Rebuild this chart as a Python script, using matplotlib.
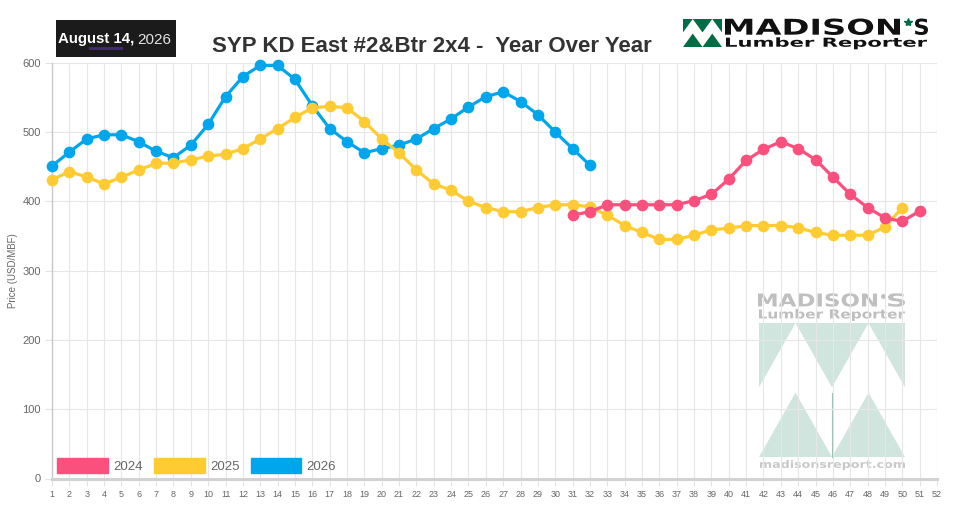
import numpy as np
import matplotlib
matplotlib.use("Agg")
import matplotlib.pyplot as plt
from matplotlib.patches import Rectangle, Polygon, PathPatch, Patch
from matplotlib.textpath import TextPath
from matplotlib.font_manager import FontProperties
from matplotlib.transforms import Affine2D

plt.rcParams['font.family'] = ['Liberation Sans', 'DejaVu Sans']

# data (weekly price, USD/MBF)
weeks_2024 = list(range(31, 52))
price_2024 = [380, 385, 395, 395, 395, 395, 395, 401, 410, 432, 459,
              475, 486, 476, 460, 435, 410, 391, 376, 371, 386]
weeks_2025 = list(range(1, 51))
price_2025 = [431, 443, 435, 425, 435, 445, 455, 455, 460, 465,
              468, 476, 490, 505, 521, 535, 537, 535, 515, 490,
              470, 445, 425, 416, 400, 391, 385, 385, 391, 395,
              395, 392, 380, 365, 355, 345, 345, 351, 359, 361,
              365, 365, 365, 362, 355, 351, 351, 351, 363, 391]
weeks_2026 = list(range(1, 33))
price_2026 = [451, 471, 490, 496, 496, 486, 472, 463, 481, 511,
              551, 580, 596, 596, 576, 538, 505, 486, 470, 476,
              481, 490, 505, 519, 536, 551, 558, 544, 525, 500,
              476, 452]
series_labels = ['2024', '2025', '2026']
series_colors = ['#F9507D', '#FFCB33', '#00A6EC']
week_ticks = list(range(1, 53))
price_ticks = [0, 100, 200, 300, 400, 500, 600]

W, H = 959, 514
fig = plt.figure(figsize=(W / 100, H / 100), dpi=100)

# background layer in pixel coords (logos, watermark, title)
bg = fig.add_axes([0, 0, 1, 1], zorder=0)
bg.set_xlim(0, W)
bg.set_ylim(H, 0)
bg.axis('off')


def fit_text(ax, s, x0, y0, x1, y1, color, weight='bold', family='DejaVu Sans'):
    # squeeze a text path into a pixel box
    tp = TextPath((0, 0), s, size=10, prop=FontProperties(family=family, weight=weight))
    e = tp.get_extents()
    tr = Affine2D().translate(-e.x0, -e.y0).scale((x1 - x0) / e.width, -(y1 - y0) / e.height).translate(x0, y1)
    ax.add_patch(PathPatch(tr.transform_path(tp), fc=color, ec='none', lw=0))


def m_logo(ax, x0, y0, x1, y1, green, lw=0):
    xm = (x0 + x1) / 2
    ym = (y0 + y1) / 2
    gap = (y1 - y0) * 0.02
    ax.add_patch(Rectangle((x0, y0), x1 - x0, ym - gap - y0, fc=green, ec='none'))
    for a, b in [(x0, xm), (xm, x1)]:
        ax.add_patch(Polygon([(a, ym - gap), (b, ym - gap), ((a + b) / 2, y0)], fc='white', ec='none'))
        ax.add_patch(Polygon([(a, y1), (b, y1), ((a + b) / 2, ym + gap)], fc=green, ec='none'))
    if lw:
        ax.plot([xm, xm], [ym + gap, y1], color='#9bbfb3', lw=lw)


# date box
bg.add_patch(Rectangle((56, 20), 120, 37, fc='#1b1b1b', ec='none'))
bg.text(58, 43.5, 'August 14,', color='white', fontsize=10.8, fontweight='bold', va='baseline')
bg.text(137.5, 43.5, '2026', color='#e2e2e2', fontsize=11, va='baseline')
bg.add_patch(Rectangle((89, 47), 34, 3, fc='#3f2a70', ec='none'))

# title
bg.text(212, 52, 'SYP KD East #2&Btr 2x4 -  Year Over Year', color='#333333',
        fontsize=16, fontweight='bold', va='baseline')

# top right logo
m_logo(bg, 683, 19, 722, 47, '#006E45')
fit_text(bg, 'MADISON', 725, 18.5, 900, 35, '#111111')
bg.plot([908], [22], marker='*', color='#006E45', ms=6)
fit_text(bg, 'S', 915, 18.5, 928, 35, '#111111')
fit_text(bg, 'Lumber Reporter', 726, 37.3, 927, 49.3, '#111111')

# watermark
fit_text(bg, 'MADISON', 758, 293.3, 877, 306.7, '#bfbfbf')
bg.plot([883], [295.5], marker='o', color='#bfbfbf', ms=2.5)
fit_text(bg, 'S', 888, 293.3, 905, 306.7, '#bfbfbf')
fit_text(bg, 'Lumber Reporter', 759, 309, 905, 321, '#bfbfbf')
m_logo(bg, 759, 323, 905, 457, '#CFE5DE', lw=0.8)
fit_text(bg, 'madisonsreport.com', 760, 460, 905, 470, '#c8c8c8')

# main chart
ax = fig.add_axes([52 / W, 35.5 / H, 885 / W, 415.8 / H], zorder=1)
ax.set_facecolor('none')

all_weeks = [weeks_2024, weeks_2025, weeks_2026]
all_prices = [price_2024, price_2025, price_2026]
for i, (wk, pr) in enumerate(zip(all_weeks, all_prices)):
    ax.plot(wk, pr, color=series_colors[i], lw=2.3, marker='o', ms=7.4,
            zorder=5 - i, clip_on=False)

ax.set_xlim(1, 52)
ax.set_ylim(0, 600)
ax.set_xticks(week_ticks)
ax.set_xticklabels([str(w) for w in week_ticks])
ax.set_yticks(price_ticks)
ax.grid(True, color='#e6e6e6', lw=0.8)
ax.set_axisbelow(True)
for s in ['top', 'right']:
    ax.spines[s].set_visible(False)
ax.spines['left'].set_color('#c8c8c8')
ax.spines['left'].set_linewidth(1)
ax.spines['bottom'].set_color('#d2d2d2')
ax.spines['bottom'].set_linewidth(2.2)
ax.tick_params(axis='both', length=5, color='#e3e3e3', labelcolor='#666666')
ax.tick_params(axis='y', labelsize=8, pad=3)
ax.tick_params(axis='x', labelsize=6.5, pad=3)
ax.set_ylabel('Price (USD/MBF)', fontsize=7, color='#666666', labelpad=3)

handles = [Patch(facecolor=c, edgecolor=c) for c in series_colors]
ax.legend(handles, series_labels, loc='lower left', bbox_to_anchor=(57 / W, (H - 473.3) / H),
          bbox_transform=fig.transFigure, ncol=3, frameon=False, fontsize=9.5,
          labelcolor='#666666', handlelength=3.85, handleheight=1.35,
          handletextpad=0.4, columnspacing=0.85, borderpad=0, borderaxespad=0)

fig.savefig('out.png', dpi=100)
